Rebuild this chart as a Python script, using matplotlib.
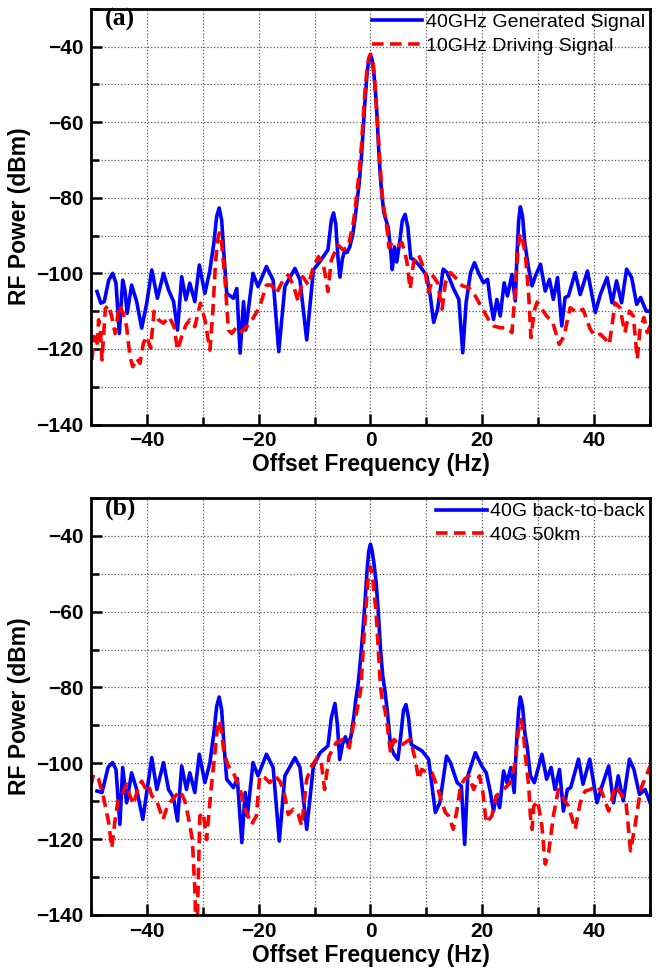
import matplotlib
matplotlib.use("Agg")
import matplotlib.pyplot as plt
from matplotlib.ticker import MultipleLocator

plt.rcParams['font.family'] = ['Liberation Sans', 'DejaVu Sans']

# ---- panel (a) ----
fa_40 = [-48.9, -48.2, -47.6, -46.8, -46.1, -45.5, -44.9, -44.3, -43.9, -43.5, -42.7, -41.8, -40.9, -40.0,
         -39.1, -38.1, -37.0, -36.1, -35.2, -34.5, -33.75, -33.0, -32.3, -31.4, -30.6, -29.6, -28.7, -28.0,
         -27.5, -27.05, -26.6, -26.2, -25.7, -24.5, -23.9, -23.3, -22.7, -22.3, -21.0, -20.1, -18.6, -17.4,
         -16.4, -15.3, -13.5, -12.6, -11.4, -10.2, -9.05, -7.6, -7.0, -6.6, -6.2, -5.8, -5.45, -5.0, -4.6,
         -4.2, -3.7, -3.2, -2.8, -2.4, -2.0, -1.6, -1.3, -1.0, -0.6, -0.3, 0.0, 0.3, 0.6, 0.9, 1.2, 1.5, 1.8,
         2.1, 2.4, 2.8, 3.2, 3.6, 3.9, 4.3, 4.7, 5.2, 5.7, 6.2, 6.7, 7.2, 7.7, 8.8, 10.1, 10.7, 11.3, 12.0,
         13.0, 13.7, 14.9, 15.8, 16.5, 17.1, 17.9, 18.6, 19.3, 20.2, 20.95, 21.4, 22.0, 22.6, 23.2, 23.9,
         24.5, 25.3, 25.9, 26.2, 26.5, 26.8, 27.2, 27.6, 28.3, 28.9, 29.5, 30.4, 31.25, 32.0, 32.7, 33.45,
         34.2, 34.8, 35.4, 36.6, 37.5, 38.8, 40.2, 41.1, 42.3, 43.2, 44.0, 44.9, 45.8, 46.7, 47.6, 48.3,
         49.3, 50.0]
pa_40 = [-104.8, -107.9, -107.5, -101.8, -100.0, -102.6, -115.9, -101.8, -104.4, -110.6, -103.1, -107.5,
         -114.5, -107.9, -99.1, -106.6, -100.0, -104.4, -107.5, -115.0, -100.9, -107.0, -102.6, -107.5,
         -97.8, -105.3, -99.1, -92.0, -85.0, -82.7, -86.0, -95.0, -105.3, -106.6, -104.0, -121.1, -107.5,
         -115.0, -100.0, -103.5, -98.2, -101.8, -120.7, -103.5, -98.7, -101.8, -117.6, -99.1, -96.9, -93.8,
         -86.0, -84.0, -87.0, -96.0, -101.0, -96.0, -94.0, -94.5, -93.0, -90.0, -86.0, -81.0, -76.0, -69.0,
         -62.0, -55.0, -47.0, -43.5, -42.3, -43.5, -47.0, -52.0, -59.0, -68.0, -75.0, -80.0, -84.0, -86.0,
         -88.0, -94.0, -99.0, -93.0, -97.0, -92.0, -86.0, -84.4, -88.0, -96.0, -96.3, -98.0, -100.7, -106.0,
         -113.0, -109.5, -98.9, -99.8, -104.2, -106.9, -121.0, -107.8, -99.8, -97.2, -99.8, -102.5, -101.6,
         -106.9, -112.2, -106.9, -111.3, -102.5, -106.0, -100.3, -107.3, -95.0, -86.0, -82.4, -85.0, -92.0,
         -98.9, -103.3, -100.7, -97.6, -104.7, -101.6, -106.9, -101.1, -113.9, -106.4, -106.0, -99.8,
         -105.6, -99.4, -110.4, -105.6, -101.1, -107.8, -102.0, -107.8, -98.9, -101.1, -108.2, -106.4,
         -110.0, -110.0]

fa_10 = [-49.8, -49.4, -48.9, -48.6, -48.3, -48.0, -47.4, -46.8, -46.25, -45.65, -44.9, -44.2, -43.6, -43.0,
         -42.5, -41.8, -41.2, -40.6, -40.0, -39.3, -38.7, -37.9, -37.0, -36.0, -35.1, -34.5, -33.75, -33.0,
         -32.3, -31.4, -30.4, -29.6, -28.7, -28.2, -27.7, -27.3, -27.0, -26.6, -26.0, -25.4, -24.8, -23.9,
         -23.0, -22.1, -21.0, -19.8, -18.6, -17.7, -16.8, -15.9, -14.7, -13.8, -12.9, -12.1, -11.1, -10.2,
         -9.3, -8.45, -7.6, -7.0, -5.8, -4.9, -4.0, -3.4, -3.0, -2.5, -2.0, -1.6, -1.3, -1.0, -0.6, -0.3,
         0.0, 0.3, 0.6, 0.9, 1.2, 1.5, 1.8, 2.1, 2.4, 2.8, 3.3, 3.9, 4.8, 5.65, 6.5, 7.1, 7.7, 8.6, 9.8,
         10.4, 11.2, 12.0, 12.8, 13.4, 14.3, 15.5, 16.4, 17.6, 18.75, 19.9, 21.1, 22.0, 23.2, 24.4, 25.3,
         25.9, 26.4, 26.8, 27.2, 27.7, 28.3, 28.7, 29.3, 29.8, 30.65, 31.5, 32.6, 33.75, 34.6, 35.7, 36.9,
         38.0, 39.3, 40.2, 41.1, 42.0, 42.7, 43.75, 44.6, 45.5, 46.3, 47.0, 47.7, 48.2, 48.9, 49.5, 50.0]
pa_10 = [-122.9, -116.7, -119.4, -112.3, -115.0, -122.9, -109.3, -108.4, -111.5, -115.9, -108.4, -110.6,
         -114.1, -122.0, -124.7, -122.5, -123.8, -118.5, -116.7, -119.8, -110.1, -112.3, -113.2, -111.5,
         -114.1, -120.3, -116.7, -113.7, -112.3, -114.1, -107.9, -112.3, -120.3, -110.6, -97.0, -91.0,
         -89.3, -92.0, -101.8, -115.0, -115.9, -114.1, -115.4, -114.1, -111.9, -108.8, -103.1, -103.1,
         -105.3, -102.6, -100.4, -103.1, -107.5, -100.9, -103.1, -98.2, -95.6, -97.4, -104.8, -96.5, -92.5,
         -93.8, -93.0, -89.0, -86.0, -80.0, -73.0, -66.0, -59.0, -52.0, -46.0, -43.0, -42.0, -43.0, -46.0,
         -52.0, -59.0, -66.0, -73.0, -79.0, -83.0, -86.0, -93.2, -91.9, -92.8, -91.9, -96.7, -104.2, -97.2,
         -95.0, -99.8, -105.1, -100.7, -102.5, -109.5, -102.5, -99.8, -101.6, -103.3, -103.8, -106.0,
         -109.1, -112.2, -113.9, -114.4, -114.4, -115.7, -104.2, -93.0, -89.5, -91.0, -95.0, -106.0,
         -117.0, -109.8, -107.6, -109.5, -111.3, -113.0, -118.8, -116.6, -109.1, -110.4, -109.5, -114.8,
         -116.6, -116.1, -117.4, -118.8, -107.8, -109.1, -115.7, -110.0, -111.3, -122.7, -114.8, -111.7,
         -115.7, -113.9]

# ---- panel (b) ----
fb_b2b = [-48.9, -48.0, -46.9, -46.1, -45.5, -44.8, -44.3, -43.6, -42.7, -41.8, -40.7, -39.1, -38.2, -37.0,
          -36.1, -35.2, -34.5, -33.75, -32.9, -32.3, -31.4, -30.6, -29.6, -28.7, -28.0, -27.5, -27.05, -26.6,
          -26.2, -25.7, -24.5, -23.8, -23.0, -22.4, -22.0, -21.0, -20.1, -18.6, -17.4, -16.3, -15.3, -13.5,
          -12.6, -11.4, -10.2, -9.0, -7.6, -7.0, -6.35, -5.9, -5.5, -5.0, -4.5, -4.0, -3.5, -3.0, -2.6, -2.2,
          -1.8, -1.4, -1.0, -0.6, -0.3, 0.0, 0.3, 0.6, 1.0, 1.4, 1.8, 2.2, 2.6, 3.0, 3.6, 4.2, 4.9, 5.4, 5.9,
          6.35, 6.8, 7.3, 7.7, 9.2, 10.4, 11.0, 11.6, 12.4, 13.6, 14.3, 15.5, 16.25, 16.85, 17.4, 18.75, 19.9,
          20.7, 21.4, 22.0, 22.5, 23.1, 23.8, 24.4, 25.1, 25.7, 26.1, 26.5, 26.8, 27.2, 27.6, 28.0, 28.6,
          29.3, 30.65, 31.5, 32.3, 33.0, 33.8, 34.5, 35.2, 35.8, 37.2, 38.0, 39.2, 40.5, 41.2, 42.6, 43.45,
          44.3, 45.2, 46.3, 47.1, 48.1, 49.1, 50.0]
pb_b2b = [-107.3, -107.7, -101.0, -99.8, -101.6, -116.1, -101.1, -110.4, -102.5, -106.9, -114.8, -98.5,
          -106.9, -99.8, -106.9, -109.1, -115.2, -100.7, -106.9, -102.5, -107.7, -97.6, -105.1, -99.8, -92.0,
          -85.0, -82.5, -86.0, -95.0, -104.2, -106.4, -104.0, -120.9, -107.7, -113.9, -99.8, -103.3, -97.6,
          -101.1, -120.5, -103.3, -98.5, -101.1, -117.4, -100.7, -97.2, -95.4, -88.0, -84.2, -90.0, -99.0,
          -95.0, -93.0, -95.0, -93.0, -88.0, -83.0, -79.0, -73.0, -66.0, -58.0, -49.0, -44.0, -42.2, -44.0,
          -47.0, -52.0, -60.0, -70.0, -77.0, -81.0, -86.0, -95.4, -97.6, -99.0, -93.0, -86.0, -84.5, -88.0,
          -95.0, -95.4, -96.7, -98.9, -106.0, -113.0, -110.4, -98.1, -99.8, -105.1, -106.0, -121.4, -103.3,
          -97.2, -100.7, -102.5, -107.3, -112.6, -108.6, -111.7, -102.0, -105.1, -101.1, -107.7, -95.0, -86.0,
          -82.5, -85.0, -92.0, -95.4, -103.3, -105.1, -97.6, -104.2, -101.1, -106.9, -101.6, -112.6, -106.9,
          -106.4, -98.9, -105.5, -98.9, -110.4, -106.9, -100.7, -110.4, -103.3, -109.9, -98.9, -101.6, -108.2,
          -106.9, -110.4]

fb_50 = [-50.0, -49.5, -48.6, -47.7, -46.8, -46.25, -45.65, -45.1, -44.2, -43.6, -43.0, -42.4, -41.5, -40.9,
         -40.3, -39.7, -39.1, -38.2, -37.1, -36.3, -35.2, -34.0, -33.2, -32.6, -31.85, -31.4, -31.1, -30.5,
         -29.9, -29.3, -28.5, -27.8, -27.4, -27.0, -26.6, -26.2, -25.4, -24.5, -23.3, -22.4, -21.25, -20.4,
         -19.8, -18.9, -18.0, -17.1, -16.2, -15.5, -14.7, -13.8, -12.9, -12.3, -11.4, -10.5, -9.5, -8.75,
         -8.2, -7.4, -6.1, -4.9, -3.8, -3.2, -2.5, -2.0, -1.7, -1.3, -1.0, -0.7, -0.4, 0.0, 0.4, 0.7, 1.0,
         1.4, 1.8, 2.2, 2.6, 3.0, 3.6, 4.2, 5.4, 6.25, 7.1, 8.0, 8.6, 9.2, 10.1, 11.0, 11.9, 12.8, 13.4,
         14.0, 14.8, 15.5, 16.1, 16.8, 17.6, 18.45, 19.5, 20.1, 20.7, 21.7, 22.5, 23.8, 25.0, 25.9, 26.4,
         26.9, 27.3, 27.7, 28.3, 28.6, 28.9, 29.2, 29.9, 30.65, 31.25, 31.85, 32.7, 33.6, 34.2, 35.4, 36.6,
         37.5, 38.4, 39.3, 40.5, 41.4, 42.6, 43.75, 44.6, 45.7, 46.5, 47.3, 48.3, 49.5, 50.0]
pb_50 = [-106.0, -102.9, -104.2, -109.1, -115.7, -122.3, -114.8, -109.5, -107.7, -105.5, -108.6, -110.8,
         -106.4, -104.7, -106.4, -105.5, -108.6, -109.9, -114.8, -111.3, -109.1, -107.3, -109.9, -113.9,
         -120.1, -133.2, -150.0, -113.9, -113.0, -120.1, -106.9, -97.2, -91.0, -88.7, -92.0, -97.2, -100.7,
         -102.5, -106.9, -112.1, -116.1, -113.9, -103.3, -103.8, -105.1, -103.3, -104.7, -107.3, -113.5,
         -112.1, -113.5, -116.5, -104.2, -100.7, -98.5, -100.3, -106.9, -98.1, -94.5, -93.7, -95.9, -91.0,
         -86.7, -83.0, -80.0, -70.0, -63.0, -57.0, -51.0, -48.2, -51.0, -56.0, -60.0, -70.0, -80.0, -84.0,
         -86.0, -90.0, -97.2, -93.7, -95.4, -94.5, -93.7, -98.9, -104.2, -101.6, -102.5, -102.5, -106.0,
         -110.4, -113.0, -113.9, -117.4, -112.1, -106.0, -104.2, -103.3, -106.9, -103.3, -107.7, -115.7,
         -113.9, -108.6, -106.9, -105.1, -99.8, -92.0, -88.5, -91.0, -98.1, -106.0, -113.9, -117.4, -111.3,
         -109.9, -116.5, -126.6, -123.6, -113.9, -106.9, -108.6, -111.3, -117.4, -110.4, -107.3, -106.9,
         -106.0, -107.7, -112.6, -106.0, -107.7, -110.4, -123.1, -116.5, -106.9, -102.5, -100.7]

panels = [
    ("(a)", fa_40, pa_40, "40GHz Generated Signal", fa_10, pa_10, "10GHz Driving Signal"),
    ("(b)", fb_b2b, pb_b2b, "40G back-to-back", fb_50, pb_50, "40G 50km"),
]

fig = plt.figure(figsize=(6.58, 9.71), dpi=100)
rects = [[0.138, 0.5628, 0.850, 0.4282], [0.138, 0.0577, 0.850, 0.4295]]

for rect, (tag, f1, p1, lab1, f2, p2, lab2) in zip(rects, panels):
    ax = fig.add_axes(rect)
    ax.plot(f1, p1, color='#0000ff', lw=2.6, label=lab1)
    ax.plot(f2, p2, color='#ff0000', lw=2.6, dashes=(3.2, 1.8), label=lab2)
    ax.set_xlim(-50, 50)
    ax.set_ylim(-140, -30)
    ax.xaxis.set_major_locator(MultipleLocator(20))
    ax.xaxis.set_minor_locator(MultipleLocator(10))
    ax.yaxis.set_major_locator(MultipleLocator(20))
    ax.yaxis.set_minor_locator(MultipleLocator(10))
    ax.grid(True, which='both', ls=':', color='0.35', lw=0.9)
    ax.tick_params(which='both', direction='in', width=1.8)
    ax.tick_params(which='major', length=8, labelsize=15, pad=5)
    ax.tick_params(which='minor', length=6)
    for lbl in ax.get_xticklabels() + ax.get_yticklabels():
        lbl.set_fontweight('bold')
    for s in ax.spines.values():
        s.set_linewidth(2.0)
    ax.set_xlabel("Offset Frequency (Hz)", fontsize=16.5, fontweight='bold', labelpad=2)
    ax.set_ylabel("RF Power (dBm)", fontsize=16.5, fontweight='bold', labelpad=4)
    ax.text(0.025, 0.975, tag, transform=ax.transAxes, ha='left', va='center',
            fontsize=18.5, fontweight='bold', family=['Liberation Serif', 'DejaVu Serif'])
    ax.legend(loc='upper right', frameon=False, fontsize=14, handlelength=2.6,
              handletextpad=0.2, labelspacing=0.3, borderaxespad=0.1, borderpad=0.15)

fig.savefig("out.png", dpi=100)
